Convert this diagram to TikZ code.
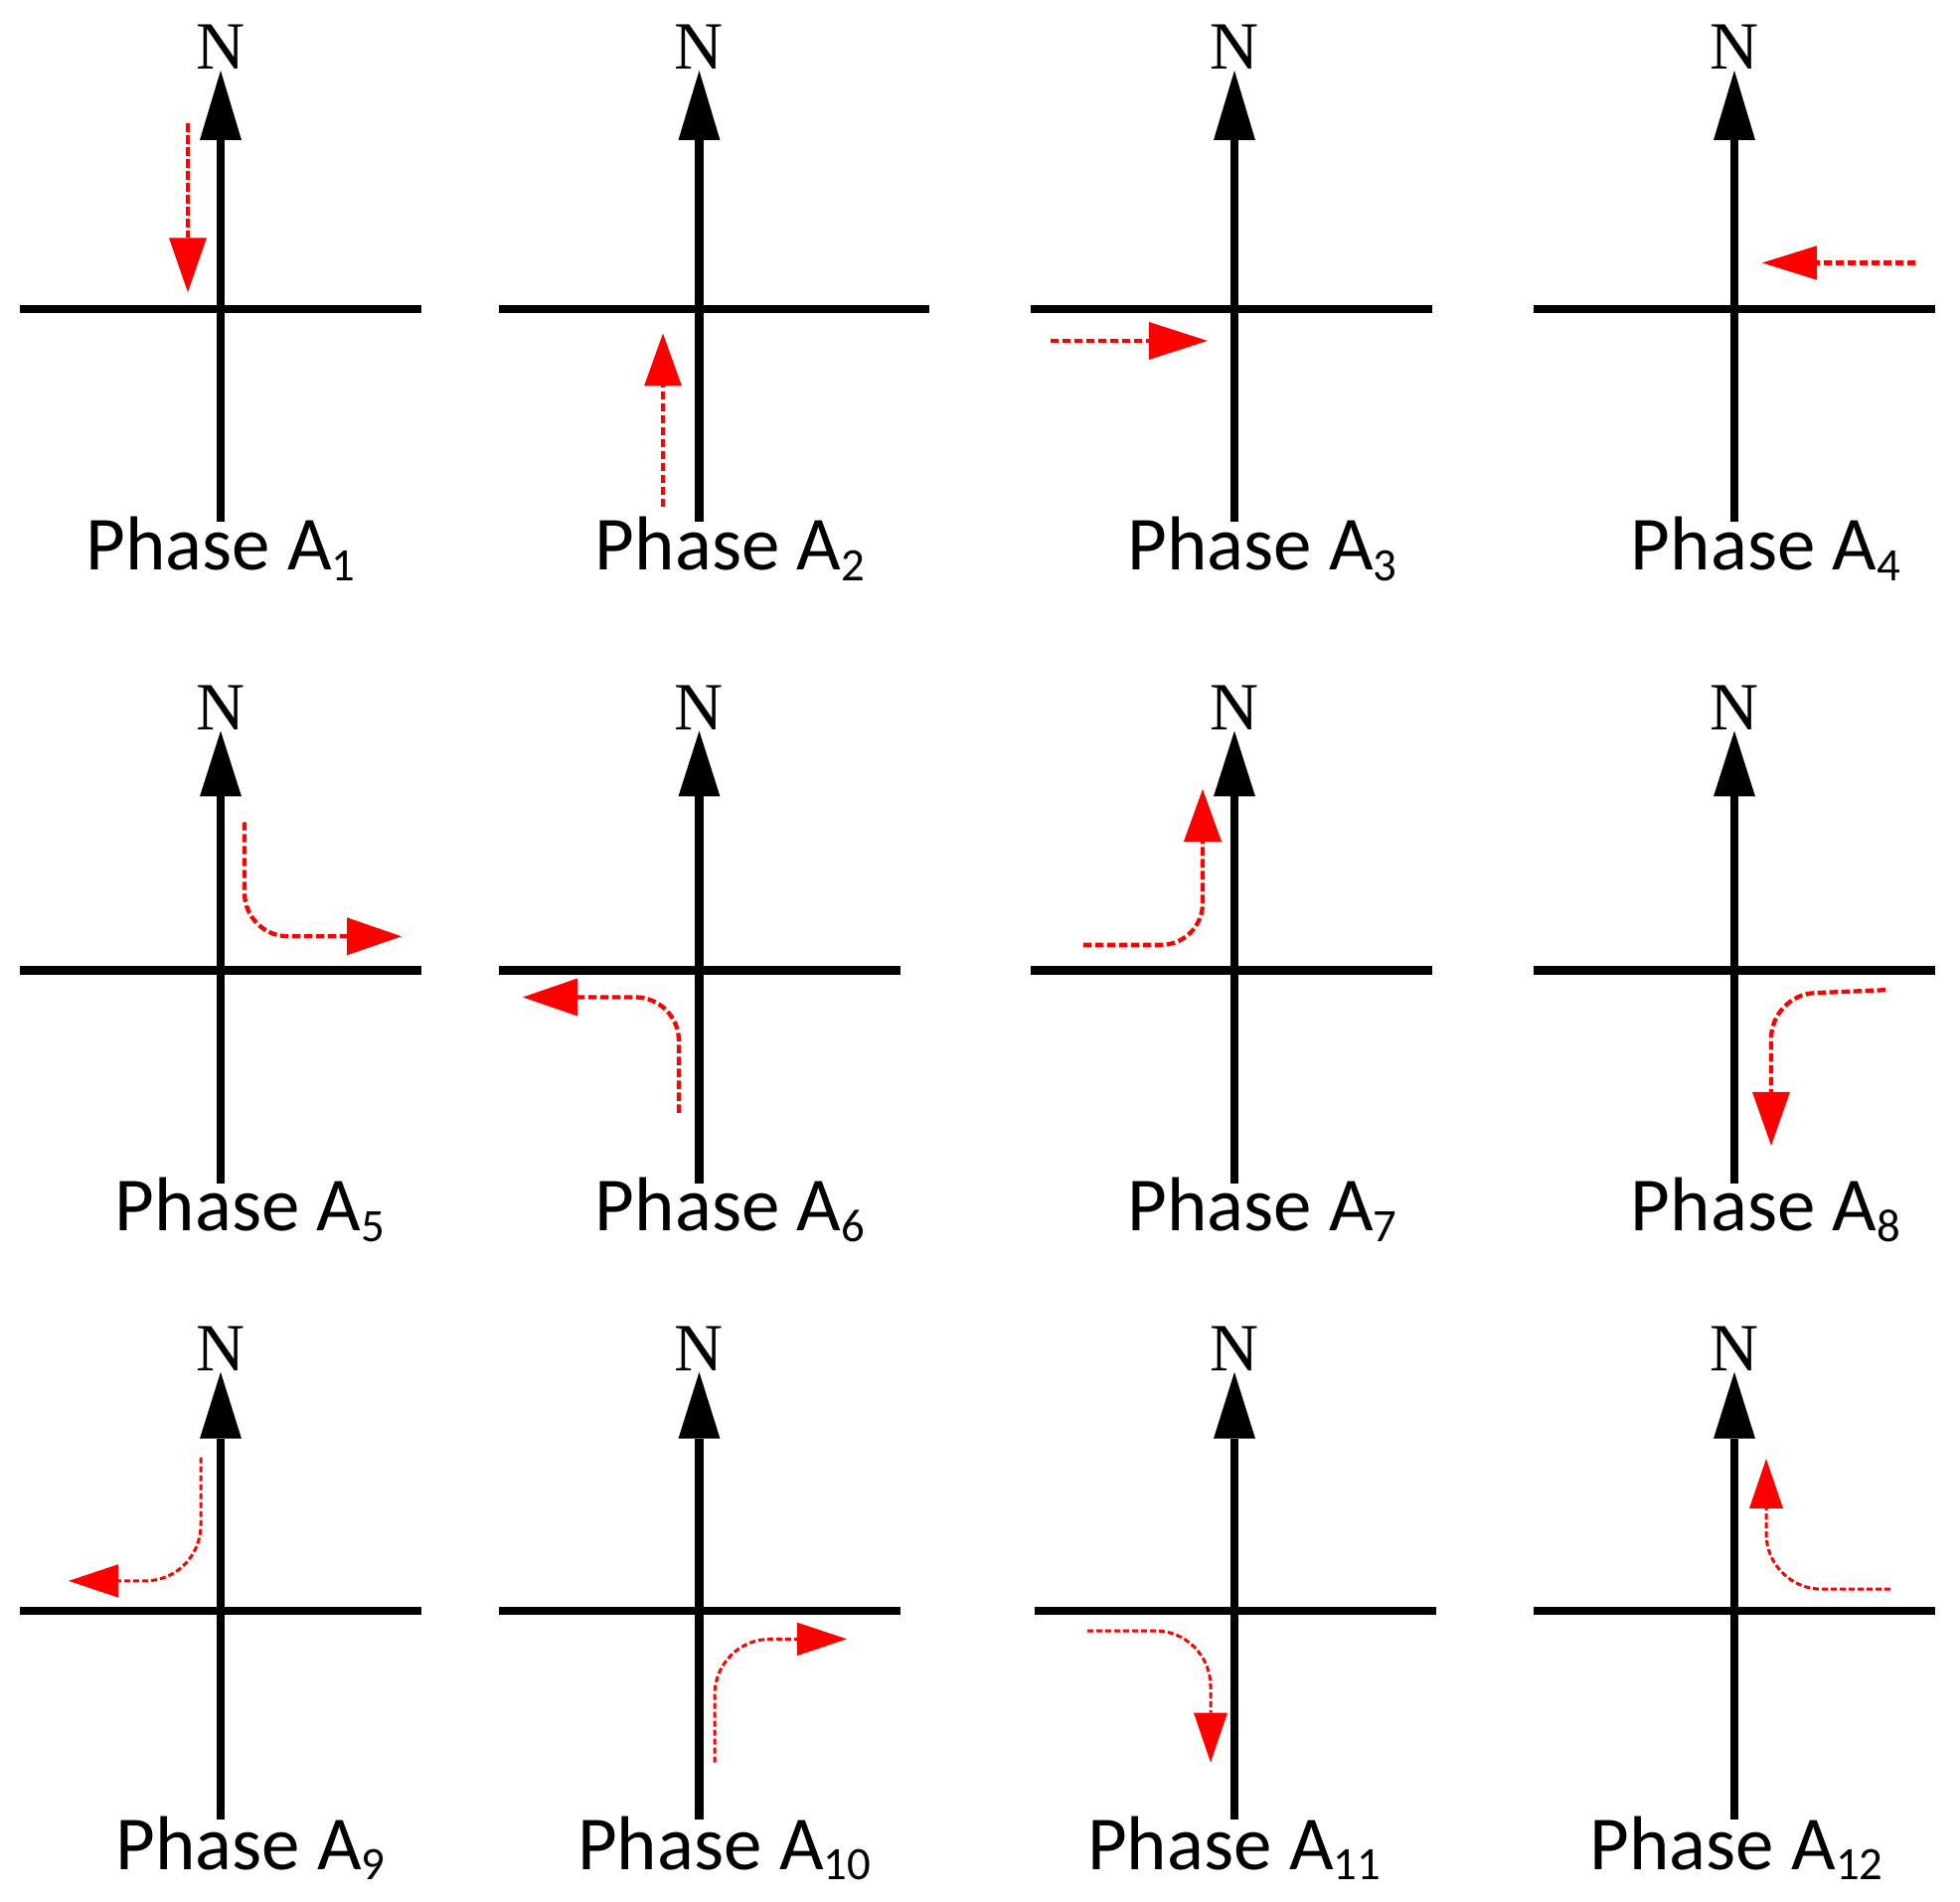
\documentclass[tikz,border=0pt]{standalone}
\usepackage{fontspec}
\setmainfont{Carlito}[Numbers=Lining]
\newfontfamily\nfont{Liberation Serif}
\usetikzlibrary{arrows.meta}
\definecolor{moved}{RGB}{255,0,0}
\newcommand\phlabel[1]{Phase A\raisebox{-5.3pt}{\fontsize{23.4}{24}\selectfont #1}}
\newcommand\crossing[8]{%
  \draw[road] (#6,#4) -- (#7,#4);
  \draw[northline, -{Triangle[length=#8,width=21pt,line width=0pt]}] (#2,#5) -- (#2,#3);
  \node[nlabel] (n#1) at (#2,#3-1) {N};
}
\tikzset{
  road/.style={line width=4.2pt, black},
  northline/.style={line width=4.2pt, black},
  nlabel/.style={anchor=base, inner sep=0pt, font=\nfont\fontsize{34}{36}\selectfont},
  plabel/.style={anchor=base, inner sep=0pt, font=\fontsize{38.5}{42}\selectfont},
  mv/.style={draw=moved, line width=2.15pt, dash pattern=on 4.2pt off 1.8pt},
  mvthin/.style={draw=moved, line width=1.5pt, dash pattern=on 3pt off 1.5pt},
}
\begin{document}
\begin{tikzpicture}[x=0.5pt,y=-0.5pt]
\useasboundingbox (0,0) rectangle (1972,1914);
% ---------- row 1 ----------
\crossing{1}{222}{71}{311}{525}{20}{424}{35pt}
\crossing{2}{703.5}{71}{311}{525}{502}{935}{35pt}
\crossing{3}{1242}{71}{311}{525}{1037}{1441}{35pt}
\crossing{4}{1745}{71}{311}{525}{1543}{1947}{35pt}
\node[plabel] (p1) at (222,574) {\phlabel{1}};
\node[plabel] (p2) at (734.5,574) {\phlabel{2}};
\node[plabel] (p3) at (1270,574) {\phlabel{3}};
\node[plabel] (p4) at (1776.5,574) {\phlabel{4}};
\draw[mv, -{Triangle[length=27.3pt,width=19pt,line width=0pt]}] (189,124.5) -- (189,294);
\draw[mv, -{Triangle[length=26.5pt,width=19pt,line width=0pt]}] (667,510) -- (667,335.5);
\draw[mv, -{Triangle[length=29.5pt,width=19pt,line width=0pt]}] (1057,343) -- (1215,343);
\draw[mv, -{Triangle[length=27.5pt,width=17.2pt,line width=0pt]}] (1927,264.5) -- (1773,264.5);
% ---------- row 2 ----------
\crossing{5}{222}{735.5}{976.6}{1191}{20}{424}{33pt}
\crossing{6}{703.5}{735.5}{976.6}{1191}{502}{906}{33pt}
\crossing{7}{1242}{735.5}{976.6}{1191}{1037}{1441}{33pt}
\crossing{8}{1745}{735.5}{976.6}{1191}{1543}{1947}{33pt}
\node[plabel] (p5) at (251.5,1238.5) {\phlabel{5}};
\node[plabel] (p6) at (734.5,1238.5) {\phlabel{6}};
\node[plabel] (p7) at (1270,1238.5) {\phlabel{7}};
\node[plabel] (p8) at (1776.5,1238.5) {\phlabel{8}};
\draw[mv, rounded corners=22pt, -{Triangle[length=27.5pt,width=19pt,line width=0pt]}] (246,827.3) -- (246,942.3) -- (404,942.3);
\draw[mv, rounded corners=22pt, -{Triangle[length=27.5pt,width=19pt,line width=0pt]}] (683,1119.8) -- (683,1003.5) -- (526,1003.5);
\draw[mv, rounded corners=21pt, -{Triangle[length=26.3pt,width=19pt,line width=0pt]}] (1090,950.9) -- (1210,950.9) -- (1210,794.2);
\draw[mv, rounded corners=22pt, -{Triangle[length=27pt,width=19pt,line width=0pt]}] (1897,996.2) -- (1782,1001.1) -- (1782,1152.9);
% ---------- row 3 ----------
\crossing{9}{222}{1380.7}{1620.7}{1831}{20}{424}{33.5pt}
\crossing{10}{703.5}{1380.7}{1620.7}{1831}{502}{906}{33.5pt}
\crossing{11}{1242}{1380.7}{1620.7}{1831}{1041}{1445}{33.5pt}
\crossing{12}{1745}{1380.7}{1620.7}{1831}{1543}{1947}{33.5pt}
\node[plabel] (p9) at (252,1881) {\phlabel{9}};
\node[plabel] (p10) at (728.5,1881) {\phlabel{10}};
\node[plabel] (p11) at (1241.5,1881) {\phlabel{11}};
\node[plabel] (p12) at (1747,1881) {\phlabel{12}};
\draw[mvthin, rounded corners=28pt, -{Triangle[length=25pt,width=16.7pt,line width=0pt]}] (202,1466.7) -- (202,1590.9) -- (69,1590.9);
\draw[mvthin, rounded corners=28pt, -{Triangle[length=25pt,width=16.7pt,line width=0pt]}] (719,1773.6) -- (719,1649.4) -- (852,1649.4);
\draw[mvthin, rounded corners=28pt, -{Triangle[length=25pt,width=17pt,line width=0pt]}] (1094,1641) -- (1218,1641) -- (1218,1773.6);
\draw[mvthin, rounded corners=28pt, -{Triangle[length=25pt,width=17pt,line width=0pt]}] (1902,1599.2) -- (1777,1599.2) -- (1777,1467.9);
\end{tikzpicture}
\end{document}
